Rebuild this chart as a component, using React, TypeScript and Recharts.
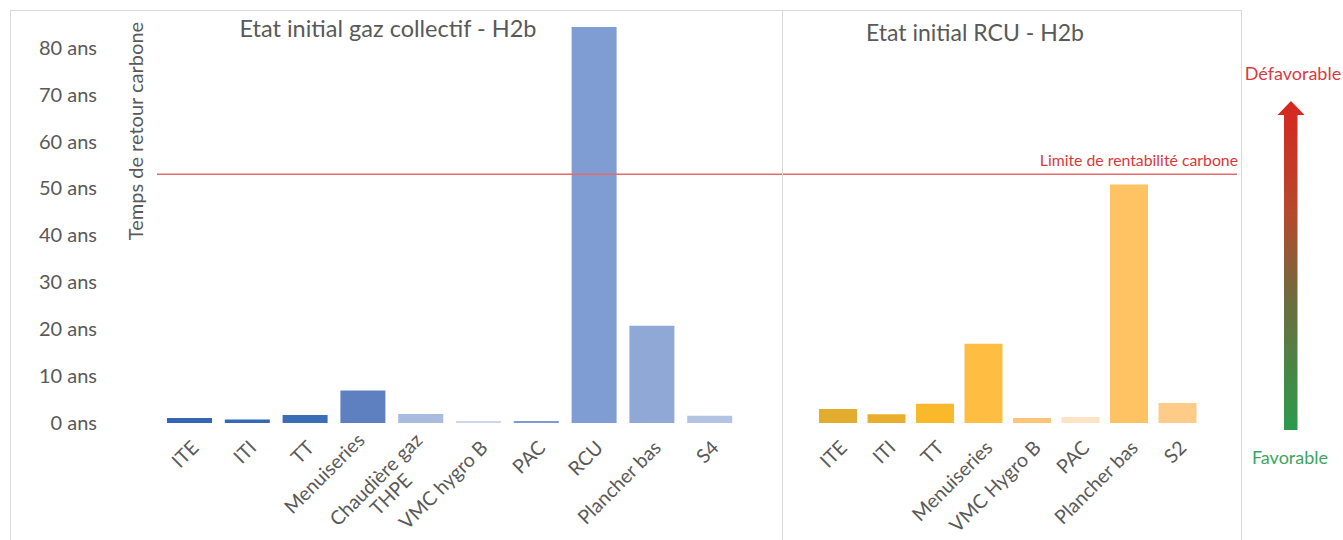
import { BarChart, Bar, XAxis, YAxis, Cell, ReferenceLine } from 'recharts'

// ============================================
// Data
// ============================================

const GAZ_CATEGORIES = ['ITE', 'ITI', 'TT', 'Menuiseries\n', 'Chaudière gaz\nTHPE', 'VMC hygro B', 'PAC', 'RCU', 'Plancher bas', 'S4']
const GAZ_VALUES = [1.06, 0.77, 1.7, 6.9, 1.9, 0.4, 0.4, 84.4, 20.7, 1.55]
const GAZ_COLORS = ['#3366B5', '#3768B6', '#3A6EB7', '#5E80C0', '#A9BBDF', '#CDD7EC', '#7E9AD2', '#7F9CD3', '#90A8D6', '#B3C3E3']

const RCU_CATEGORIES = ['ITE', 'ITI', 'TT', 'Menuiseries', 'VMC Hygro B', 'PAC', 'Plancher bas', 'S2']
const RCU_VALUES = [2.97, 1.84, 4.1, 16.9, 1.06, 1.27, 50.8, 4.25]
const RCU_COLORS = ['#E2AC2E', '#EAAE2E', '#F9B92B', '#FFBE42', '#FFC475', '#FFE3C4', '#FFC363', '#FFCB88']

const Y_TICKS = [0, 10, 20, 30, 40, 50, 60, 70, 80]
const Y_DOMAIN: [number, number] = [0, 88]
const LIMITE_RENTABILITE = 53

const gazData = GAZ_CATEGORIES.map((name, i) => ({ name, value: GAZ_VALUES[i] }))
const rcuData = RCU_CATEGORIES.map((name, i) => ({ name, value: RCU_VALUES[i] }))

// ============================================
// Helpers
// ============================================

const FONT = 'Lato, "Open Sans", sans-serif'
const TEXT_COLOR = '#595959'
const LIMIT_COLOR = '#E36C6C'
const LABEL_SIZE = 19.5

let ctx: CanvasRenderingContext2D | null = null
function textWidth(s: string) {
  if (!ctx) ctx = document.createElement('canvas').getContext('2d')
  if (!ctx) return s.length * 9
  ctx.font = `${LABEL_SIZE}px Lato`
  return ctx.measureText(s).width
}

// étiquettes inclinées à -45°, multi-lignes centrées
function CategoryTick({ x, y, payload }: any) {
  const lines = String(payload.value).split('\n')
  const ax = x + 10
  const ay = y + 24
  const widths = lines.map(textWidth)
  const maxW = Math.max(...widths)
  const lh = 21
  return (
    <text
      transform={`rotate(-45 ${ax} ${ay})`}
      fontFamily={FONT}
      fontSize={LABEL_SIZE}
      fill={TEXT_COLOR}
      textAnchor="end"
    >
      {lines.map((l, i) => (
        <tspan key={i} x={ax - (maxW - widths[i]) / 2} y={ay + (i - (lines.length - 1) / 2) * lh}>
          {l}
        </tspan>
      ))}
    </text>
  )
}

// ============================================
// Main Component
// ============================================

export default function App() {
  return (
    <div style={{ position: 'relative', width: 1343, height: 540, background: '#fff', overflow: 'hidden' }}>
      <style>{'body{margin:0}'}</style>

      {/* Etat initial gaz collectif */}
      <div style={{ position: 'absolute', left: 0, top: 0 }}>
        <BarChart width={782} height={540} data={gazData} margin={{ top: 10, right: 43, bottom: 0, left: 0 }}>
          <YAxis
            width={161}
            domain={Y_DOMAIN}
            ticks={Y_TICKS}
            tickFormatter={(v: number) => `${v} ans`}
            axisLine={false}
            tickLine={false}
            tickSize={0}
            tickMargin={64}
            tick={{ fill: TEXT_COLOR, fontSize: 20, fontFamily: FONT }}
          />
          <XAxis
            dataKey="name"
            height={117}
            interval={0}
            axisLine={false}
            tickLine={false}
            tickSize={0}
            tick={<CategoryTick />}
          />
          <ReferenceLine
            y={LIMITE_RENTABILITE}
            ifOverflow="visible"
            shape={(p: any) => (
              <line x1={p.x1 - 4} y1={p.y1} x2={782} y2={p.y2} stroke={LIMIT_COLOR} strokeWidth={1.5} />
            )}
          />
          <Bar dataKey="value" barSize={45} isAnimationActive={false}>
            {gazData.map((_, i) => (
              <Cell key={i} fill={GAZ_COLORS[i]} />
            ))}
          </Bar>
        </BarChart>
      </div>

      {/* Etat initial RCU */}
      <div style={{ position: 'absolute', left: 782, top: 0 }}>
        <BarChart width={561} height={540} data={rcuData} margin={{ top: 10, right: 141, bottom: 0, left: 32 }}>
          <YAxis hide domain={Y_DOMAIN} ticks={Y_TICKS} />
          <XAxis
            dataKey="name"
            height={117}
            interval={0}
            axisLine={false}
            tickLine={false}
            tickSize={0}
            tick={<CategoryTick />}
          />
          <ReferenceLine
            y={LIMITE_RENTABILITE}
            ifOverflow="visible"
            shape={(p: any) => (
              <line x1={0} y1={p.y1} x2={p.x2 + 35} y2={p.y2} stroke={LIMIT_COLOR} strokeWidth={1.5} />
            )}
          />
          <Bar dataKey="value" barSize={38} isAnimationActive={false}>
            {rcuData.map((_, i) => (
              <Cell key={i} fill={RCU_COLORS[i]} />
            ))}
          </Bar>
        </BarChart>
      </div>

      {/* Cadre, titres, flèche */}
      <svg width={1343} height={540} style={{ position: 'absolute', left: 0, top: 0, pointerEvents: 'none' }}>
        <defs>
          <linearGradient id="arrowGrad" gradientUnits="userSpaceOnUse" x1="0" y1="101" x2="0" y2="430">
            <stop offset="0" stopColor="#D7261F" />
            <stop offset="0.35" stopColor="#B44A2E" />
            <stop offset="0.6" stopColor="#6E6C3E" />
            <stop offset="1" stopColor="#2A9B4D" />
          </linearGradient>
        </defs>
        <rect x={10.5} y={10.5} width={1231} height={540} fill="none" stroke="#D9D9D9" />
        <line x1={782.5} y1={10} x2={782.5} y2={540} stroke="#D9D9D9" />

        <text x={388} y={37} textAnchor="middle" fontFamily={FONT} fontSize={23.5} fill={TEXT_COLOR}>
          Etat initial gaz collectif - H2b
        </text>
        <text x={975} y={41} textAnchor="middle" fontFamily={FONT} fontSize={23} fill={TEXT_COLOR}>
          Etat initial RCU - H2b
        </text>
        <text
          x={143}
          y={131}
          transform="rotate(-90 143 131)"
          textAnchor="middle"
          fontFamily={FONT}
          fontSize={20}
          fill={TEXT_COLOR}
        >
          Temps de retour carbone
        </text>
        <text x={1238} y={166} textAnchor="end" fontFamily={FONT} fontSize={15.8} fill="#D9383A">
          Limite de rentabilité carbone
        </text>

        <polygon points="1291,101 1304.5,115 1277.5,115" fill="url(#arrowGrad)" />
        <rect x={1284} y={114.5} width={13.5} height={315.5} fill="url(#arrowGrad)" />
        <text x={1293} y={80} textAnchor="middle" fontFamily={FONT} fontSize={18} fill="#D93A3F">
          Défavorable
        </text>
        <text x={1290} y={464} textAnchor="middle" fontFamily={FONT} fontSize={18} fill="#3BA55D">
          Favorable
        </text>
      </svg>
    </div>
  )
}
